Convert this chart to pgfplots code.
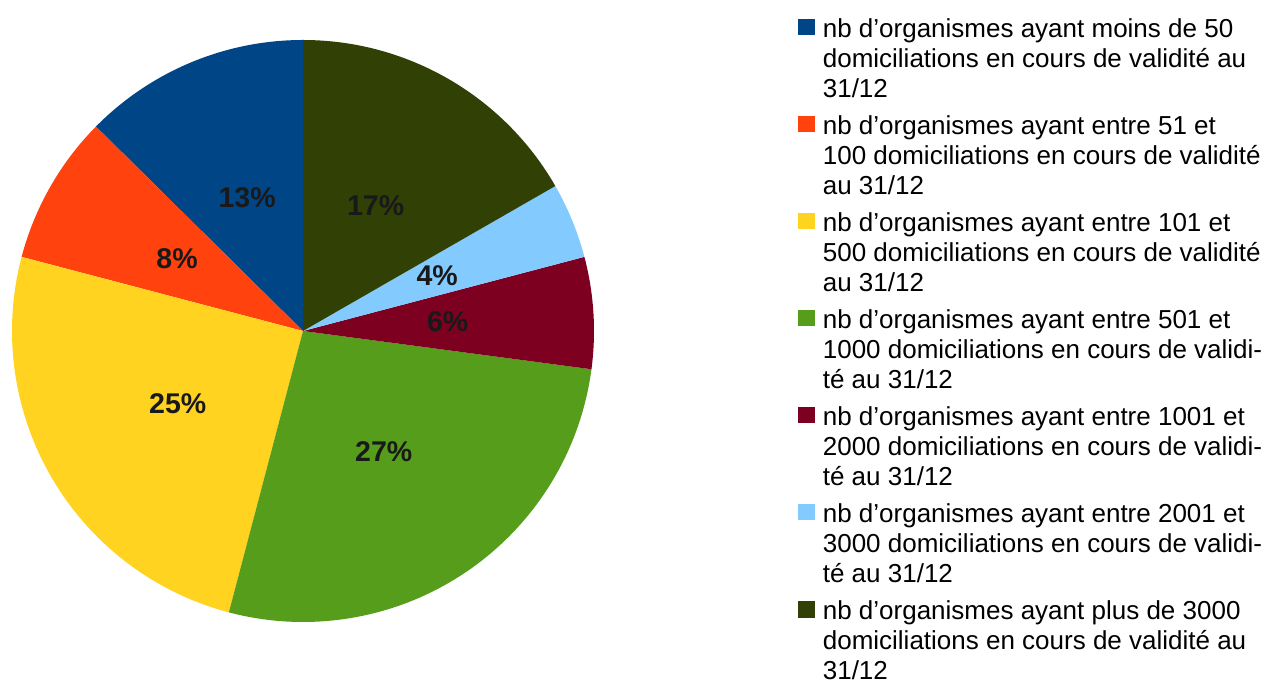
\documentclass[border=0pt]{standalone}
\usepackage{pgfplots}
\pgfplotsset{compat=1.18}
\usepackage{pgfplotstable}
\usepackage{fontspec}
\setmainfont{Liberation Sans}

\definecolor{c0}{HTML}{004586}
\definecolor{c1}{HTML}{FF420E}
\definecolor{c2}{HTML}{FFD320}
\definecolor{c3}{HTML}{579D1C}
\definecolor{c4}{HTML}{7E0021}
\definecolor{c5}{HTML}{83CAFF}
\definecolor{c6}{HTML}{314004}

% share of each category (percent), counter-clockwise from the top
\pgfplotstableread{
value
12.6
8.3
25.0
27.0
6.2
4.2
16.7
}\piedata

\xdef\cumangle{90}
\pgfplotsforeachungrouped \i in {0,...,6}{%
  \pgfplotstablegetelem{\i}{value}\of\piedata
  \let\sliceval\pgfplotsretval
  \pgfmathsetmacro\sliceend{\cumangle+3.6*\sliceval}%
  \pgfmathsetmacro\slicemid{\cumangle+1.8*\sliceval}%
  \pgfmathtruncatemacro\slicelab{round(\sliceval)}%
  \expandafter\xdef\csname sA\i\endcsname{\cumangle}%
  \expandafter\xdef\csname sB\i\endcsname{\sliceend}%
  \expandafter\xdef\csname sM\i\endcsname{\slicemid}%
  \expandafter\xdef\csname sL\i\endcsname{\slicelab}%
  \xdef\cumangle{\sliceend}%
}

\pgfplotsset{
  sq/.style={legend image code/.code={\fill[#1] (0pt,2.25pt) rectangle (11.8pt,13.7pt);}},
}

\begin{document}
\begin{tikzpicture}
\begin{axis}[
  name=pie,
  scale only axis, width=947.25pt, height=513pt,
  xmin=0, xmax=1263, ymin=0, ymax=684,
  hide axis, clip=false,
  legend style={at={(0.63207,0.9962)}, anchor=north west, draw=none, fill=none,
    inner sep=0pt, inner xsep=0pt, inner ysep=0pt, outer sep=0pt, column sep=6.2pt, row sep=0pt,
    nodes={inner sep=0pt, outer sep=0pt,
      font=\fontsize{19.5pt}{23pt}\selectfont, text height=26.03pt, text depth=2pt},
    cells={anchor=base west}},
]
\pgfplotsinvokeforeach{0,...,6}{%
  \fill[c#1] (axis cs:303,353) -- ++(\csname sA#1\endcsname:218.25pt)
     arc[start angle=\csname sA#1\endcsname, end angle=\csname sB#1\endcsname, radius=218.25pt] -- cycle;
}
\pgfplotsinvokeforeach{0,...,6}{%
  \path (axis cs:303,353) ++(\csname sM#1\endcsname:108.75pt)
     node[font=\fontsize{21.4pt}{25pt}\selectfont\bfseries, text=black!90] {\csname sL#1\endcsname\%};
}
\addlegendimage{sq=c0}\addlegendentry{nb d’organismes ayant moins de 50}
\addlegendimage{empty legend}\addlegendentry[text height=20.39pt]{domiciliations en cours de validité au}
\addlegendimage{empty legend}\addlegendentry[text height=20.39pt]{31/12}
\addlegendimage{sq=c1}\addlegendentry{nb d’organismes ayant entre 51 et}
\addlegendimage{empty legend}\addlegendentry[text height=20.39pt]{100 domiciliations en cours de validité}
\addlegendimage{empty legend}\addlegendentry[text height=20.39pt]{au 31/12}
\addlegendimage{sq=c2}\addlegendentry{nb d’organismes ayant entre 101 et}
\addlegendimage{empty legend}\addlegendentry[text height=20.39pt]{500 domiciliations en cours de validité}
\addlegendimage{empty legend}\addlegendentry[text height=20.39pt]{au 31/12}
\addlegendimage{sq=c3}\addlegendentry{nb d’organismes ayant entre 501 et}
\addlegendimage{empty legend}\addlegendentry[text height=20.39pt]{1000 domiciliations en cours de validi-}
\addlegendimage{empty legend}\addlegendentry[text height=20.39pt]{té au 31/12}
\addlegendimage{sq=c4}\addlegendentry{nb d’organismes ayant entre 1001 et}
\addlegendimage{empty legend}\addlegendentry[text height=20.39pt]{2000 domiciliations en cours de validi-}
\addlegendimage{empty legend}\addlegendentry[text height=20.39pt]{té au 31/12}
\addlegendimage{sq=c5}\addlegendentry{nb d’organismes ayant entre 2001 et}
\addlegendimage{empty legend}\addlegendentry[text height=20.39pt]{3000 domiciliations en cours de validi-}
\addlegendimage{empty legend}\addlegendentry[text height=20.39pt]{té au 31/12}
\addlegendimage{sq=c6}\addlegendentry{nb d’organismes ayant plus de 3000}
\addlegendimage{empty legend}\addlegendentry[text height=20.39pt]{domiciliations en cours de validité au}
\addlegendimage{empty legend}\addlegendentry[text height=20.39pt]{31/12}
\end{axis}
\pgfresetboundingbox
\path[use as bounding box] (pie.south west) rectangle (pie.north east);
\end{tikzpicture}
\end{document}
